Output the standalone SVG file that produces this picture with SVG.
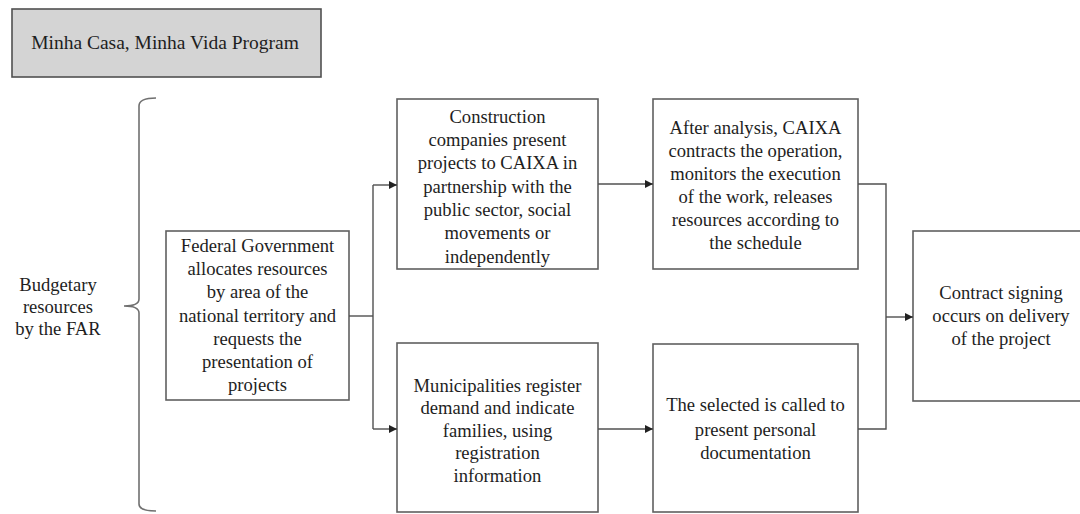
<svg xmlns="http://www.w3.org/2000/svg" width="1080" height="514" viewBox="0 0 1080 514">
<style>
.box{fill:#fff;stroke:#606060;stroke-width:1.6}
.t{font-family:'Liberation Serif','Times New Roman','DejaVu Serif',serif;font-size:18.6px;fill:#1e1e1e;text-anchor:middle}
.c{fill:none;stroke:#505050;stroke-width:1.4}
</style>
<defs>
<marker id="ah" viewBox="0 0 10 10" refX="10" refY="5" markerWidth="8" markerHeight="8" markerUnits="userSpaceOnUse" orient="auto">
<path d="M0,0 L10,5 L0,10 z" fill="#222"/>
</marker>
</defs>
<rect width="1080" height="514" fill="#fff"/>
<g id="title">
<rect x="12" y="9" width="309" height="68" fill="#d4d4d4" stroke="#505050" stroke-width="1.6"/>
<text class="t" x="165" y="49" style="font-size:19.5px">Minha Casa, Minha Vida Program</text>
</g>
<g id="budget">
<text class="t" x="58" y="291">Budgetary</text>
<text class="t" x="58" y="313">resources</text>
<text class="t" x="58" y="335">by the FAR</text>
</g>
<g id="brace">
<path d="M156,98 Q139,98 139,106 L139,299 Q139,306 124,306 Q139,306 139,313 L139,504 Q139,511 156,511" fill="none" stroke="#707070" stroke-width="1.6"/>
</g>
<g id="federal">
<rect class="box" x="166" y="231" width="183" height="169"/>
<text class="t"><tspan x="257.5" y="252">Federal Government</tspan><tspan x="257.5" y="275">allocates resources</tspan><tspan x="257.5" y="298">by area of the</tspan><tspan x="257.5" y="322">national territory and</tspan><tspan x="257.5" y="345">requests the</tspan><tspan x="257.5" y="368">presentation of</tspan><tspan x="257.5" y="391">projects</tspan></text>
</g>
<g id="construction">
<rect class="box" x="397" y="99" width="201" height="170"/>
<text class="t"><tspan x="497.5" y="123">Construction</tspan><tspan x="497.5" y="146">companies present</tspan><tspan x="497.5" y="169">projects to CAIXA in</tspan><tspan x="497.5" y="193">partnership with the</tspan><tspan x="497.5" y="216">public sector, social</tspan><tspan x="497.5" y="239">movements or</tspan><tspan x="497.5" y="263">independently</tspan></text>
</g>
<g id="municipalities">
<rect class="box" x="397" y="343" width="201" height="169"/>
<text class="t"><tspan x="497.5" y="392">Municipalities register</tspan><tspan x="497.5" y="414">demand and indicate</tspan><tspan x="497.5" y="437">families, using</tspan><tspan x="497.5" y="459">registration</tspan><tspan x="497.5" y="482">information</tspan></text>
</g>
<g id="analysis">
<rect class="box" x="653" y="99" width="205" height="170"/>
<text class="t"><tspan x="755.5" y="134">After analysis, CAIXA</tspan><tspan x="755.5" y="157">contracts the operation,</tspan><tspan x="755.5" y="180">monitors the execution</tspan><tspan x="755.5" y="203">of the work, releases</tspan><tspan x="755.5" y="226">resources according to</tspan><tspan x="755.5" y="249">the schedule</tspan></text>
</g>
<g id="selected">
<rect class="box" x="653" y="344" width="205" height="168"/>
<text class="t"><tspan x="755.5" y="411">The selected is called to</tspan><tspan x="755.5" y="436">present personal</tspan><tspan x="755.5" y="459">documentation</tspan></text>
</g>
<g id="contract">
<rect class="box" x="913" y="231" width="172" height="170"/>
<text class="t"><tspan x="1001" y="299">Contract signing</tspan><tspan x="1001" y="322">occurs on delivery</tspan><tspan x="1001" y="345">of the project</tspan></text>
</g>
<g id="connectors">
<path class="c" d="M349,316 L373,316"/>
<path class="c" d="M373,185 L373,429"/>
<path class="c" d="M373,185 L397,185" marker-end="url(#ah)"/>
<path class="c" d="M373,429 L397,429" marker-end="url(#ah)"/>
<path class="c" d="M598,184 L653,184" marker-end="url(#ah)"/>
<path class="c" d="M598,429 L653,429" marker-end="url(#ah)"/>
<path class="c" d="M858,184 L886,184 L886,429 L858,429"/>
<path class="c" d="M886,317 L913,317" marker-end="url(#ah)"/>
</g>
</svg>
